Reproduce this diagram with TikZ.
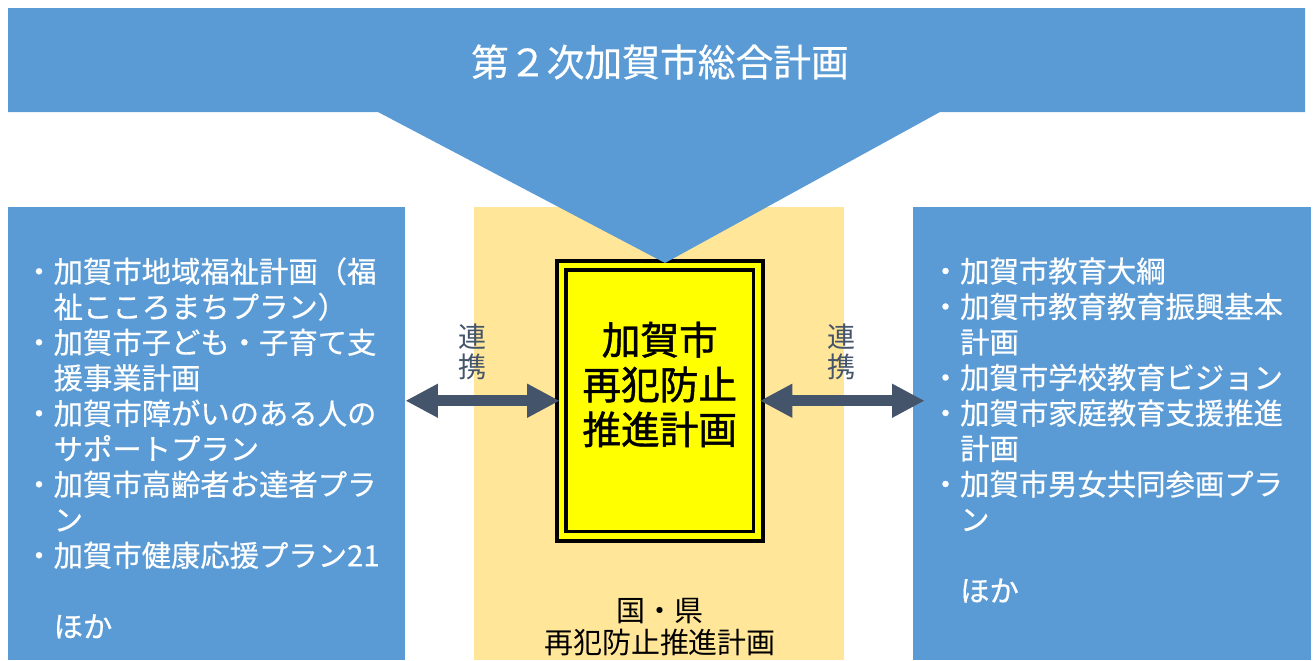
\documentclass[tikz,border=0pt]{standalone}
\usepackage{fontspec}
\newfontfamily\jp{Noto Sans CJK JP}
\newfontfamily\jpm{Noto Sans CJK JP}[FakeBold=0.5]
\newfontfamily\jpb{Noto Sans CJK JP}[FakeBold=1.2]
\usetikzlibrary{arrows.meta,fit,calc}
\definecolor{kagablue}{HTML}{5B9BD5}
\definecolor{kagatan}{HTML}{FFE699}
\definecolor{kagaslate}{HTML}{44546A}
\definecolor{planyellow}{RGB}{255,255,0}
\newcommand\ind{\hspace*{1em}}
\tikzset{
  bluebox/.style={fill=kagablue, inner sep=0},
  tanbox/.style={fill=kagatan, inner sep=0},
  planbox/.style={draw=black, fill=planyellow, double=planyellow, line width=2pt, double distance=3.4pt,
    inner sep=0, align=center, font=\jpb\fontsize{22pt}{25.5pt}\selectfont},
  listtext/.style={text=white, inner sep=0, anchor=north west, align=left,
    font=\jpm\fontsize{16.7pt}{20.2pt}\selectfont},
  link/.style={kagaslate, line width=6.2pt,
    {Triangle[width=18pt,length=18.5pt]}-{Triangle[width=18pt,length=18.5pt]}},
  linklabel/.style={text=kagaslate, align=center, inner sep=0,
    font=\jp\fontsize{16pt}{17pt}\selectfont}
}

\begin{document}
\begin{tikzpicture}[x=0.02cm, y=-0.02cm]
    \useasboundingbox (0,0) rectangle (1313,660);
    % boxes
    \node[bluebox, fit={(8,207) (405,660)}] (lbox) {};
    \node[bluebox, fit={(913,207) (1311,660)}] (rbox) {};
    \node[tanbox, fit={(474,207) (844,660)}] (midbox) {};
    \node[planbox, fit={(561.5,265.5) (758,536)}] (plan) {加賀市\\再犯防止\\推進計画};
    % banner
    \fill[kagablue] (8,8) -- (1305,8) -- (1305,112) -- (940,112) -- (665,263)
        -- (378,112) -- (8,112) -- cycle;
    \node[text=white, font=\jpm\fontsize{21.5pt}{24pt}\selectfont] (title) at (660,62) {第２次加賀市総合計画};
    % lists
    \node[listtext] (llist) at (24,257) {・加賀市地域福祉計画（福\\
        \ind 祉こころまちプラン）\\
        ・加賀市子ども・子育て支\\
        \ind 援事業計画\\
        ・加賀市障がいのある人の\\
        \ind サポートプラン\\
        ・加賀市高齢者お達者プラ\\
        \ind ン\\
        ・加賀市健康応援プラン21\\
        \mbox{}\\
        \ind ほか};
    \node[listtext] (rlist) at (930.5,257) {・加賀市教育大綱\\
        ・加賀市教育教育振興基本\\
        \ind 計画\\
        ・加賀市学校教育ビジョン\\
        ・加賀市家庭教育支援推進\\
        \ind 計画\\
        ・加賀市男女共同参画プラ\\
        \ind ン\\
        \mbox{}\\
        \ind ほか};
    \node[align=center, inner sep=0, font=\jp\fontsize{16.5pt}{18pt}\selectfont] (natplan) at (660,627) {国・県\\再犯防止推進計画};
    % links
    \draw[link] (lbox.east |- plan.west) -- (plan.west);
    \draw[link] (plan.east) -- ($(rbox.west |- plan.east)+(12,0)$);
    \node[linklabel] (llink) at (473,352) {連\\携};
    \node[linklabel] (rlink) at (842,352) {連\\携};
\end{tikzpicture}
\end{document}
